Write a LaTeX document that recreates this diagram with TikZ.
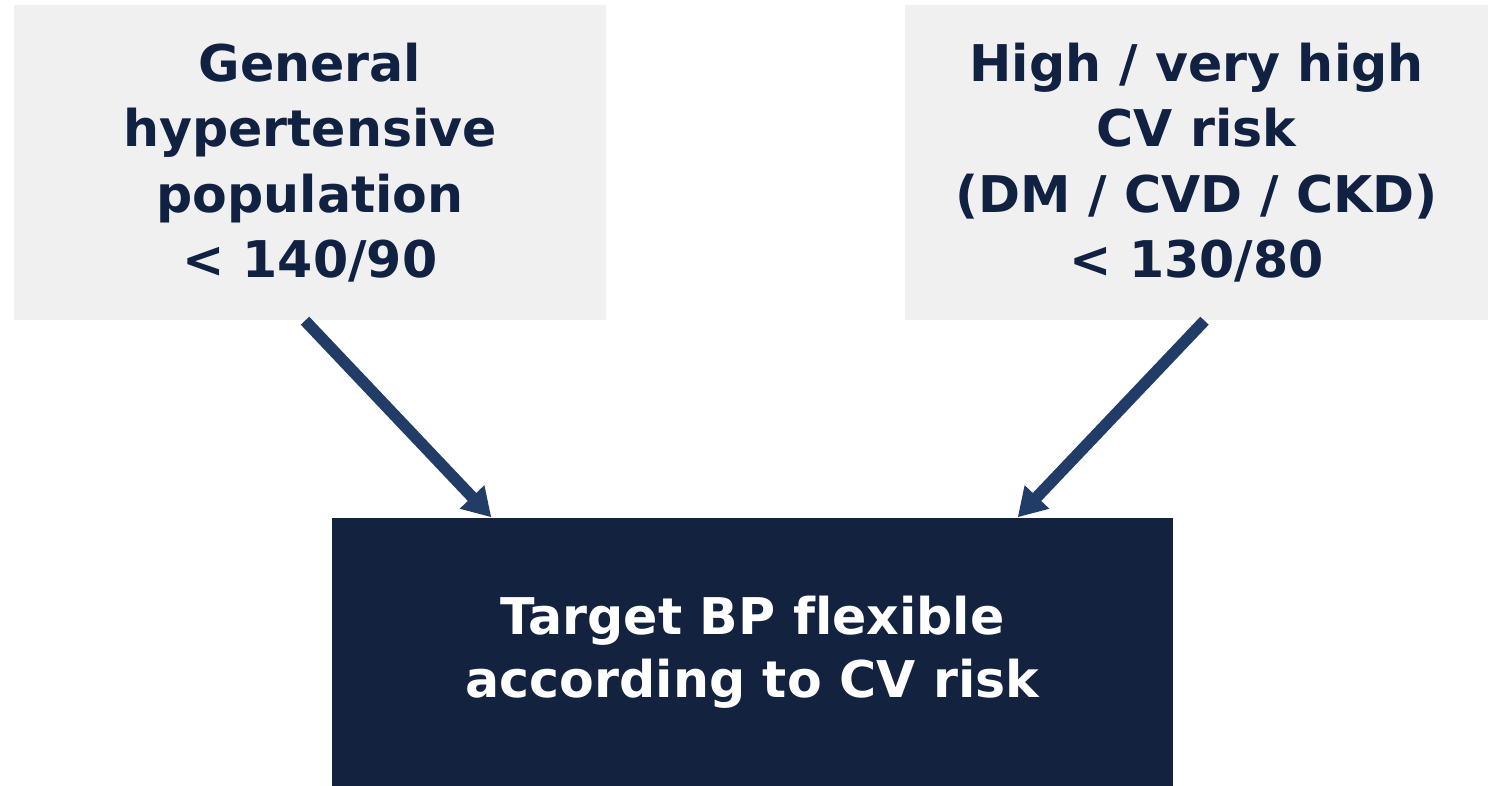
\documentclass[tikz,border=0pt]{standalone}
\usepackage{fontspec}
\setmainfont[Ligatures={NoCommon}]{DejaVu Sans}
\usetikzlibrary{arrows.meta}

\definecolor{boxgray}{HTML}{F0F0F0}
\definecolor{navytext}{HTML}{112142}
\definecolor{navybox}{HTML}{12223F}
\definecolor{arrowblue}{HTML}{213C66}

\begin{document}
\begin{tikzpicture}[
	goal/.style={fill=boxgray, text=navytext, align=center, inner sep=0pt,
		font=\fontsize{14.4}{18.6}\selectfont\bfseries},
	result/.style={fill=navybox, text=white, align=center, inner sep=0pt,
		font=\fontsize{14.4}{17.8}\selectfont\bfseries},
	flow/.style={arrowblue, line width=3.3pt,
		-{Triangle[width=0.32cm,length=0.28cm]}}
]
	\useasboundingbox (0, 0) rectangle (14.9, 7.86);
	%targets on top
	\node[goal, minimum width=5.92cm, minimum height=3.15cm] (general) at (3.10, 6.235)
		{General\\hypertensive\\population\\< 140/90};
	\node[goal, minimum width=5.83cm, minimum height=3.15cm] (highrisk) at (11.965, 6.235)
		{High / very high\\CV risk\\(DM / CVD / CKD)\\< 130/80};
	%flexible target
	\node[result, minimum width=8.41cm, minimum height=2.68cm] (target) at (7.525, 1.34)
		{Target BP flexible\\according to CV risk};
	%arrows
	\coordinate (inL) at ([xshift=1.6cm]target.north west);
	\coordinate (inR) at ([xshift=-1.56cm]target.north east);
	\draw[flow] ([xshift=-0.05cm]general.south) -- (inL);
	\draw[flow] ([xshift=0.08cm]highrisk.south) -- (inR);
\end{tikzpicture}
\end{document}
